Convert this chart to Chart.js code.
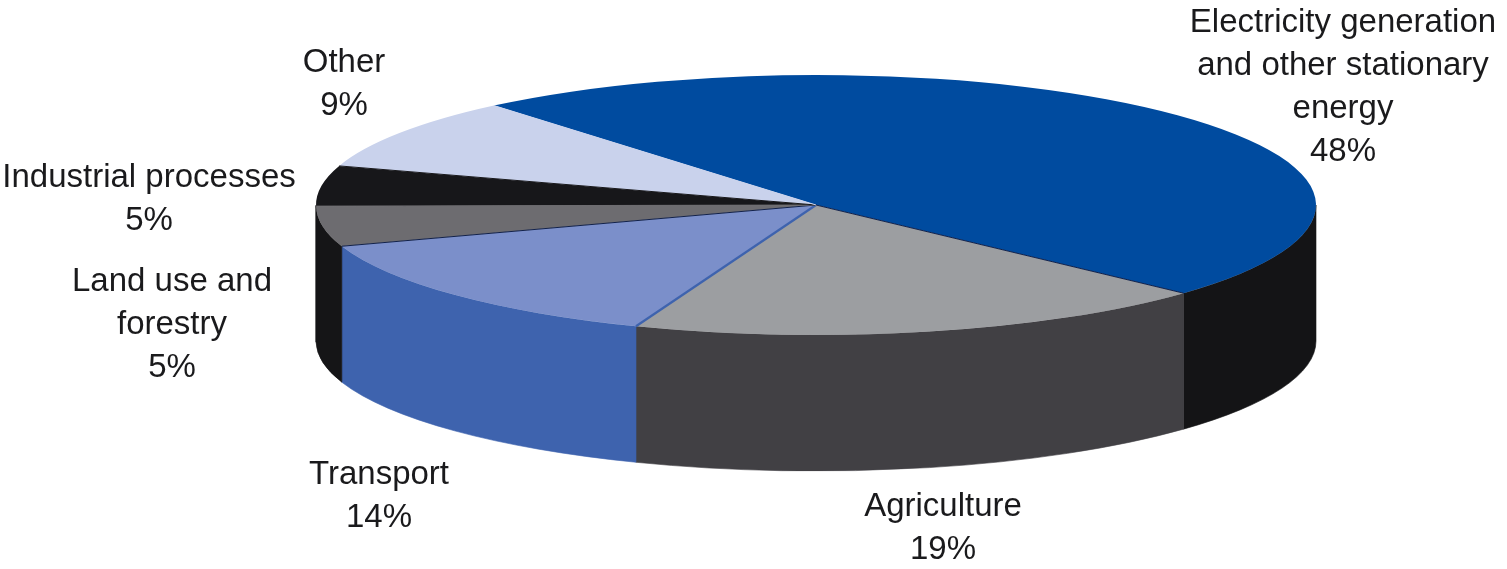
<!DOCTYPE html>
<html>
<head>
<meta charset="utf-8">
<style>html,body{margin:0;padding:0;background:#fff;overflow:hidden}canvas{display:block}</style>
<script src="https://cdn.jsdelivr.net/npm/chart.js@4"></script>
</head>
<body>
<canvas id="c" width="1507" height="569"></canvas>
<script>
const categories = ["Electricity generation and other stationary energy","Agriculture","Transport","Land use and forestry","Industrial processes","Other"];
const shares = [48,19,14,5,5,9];
const labelLines = [["Electricity generation","and other stationary","energy"],["Agriculture"],["Transport"],["Land use and","forestry"],["Industrial processes"],["Other"]];
const topColors = ["#004b9f","#9c9ea1","#7b8fca","#6d6c70","#17171a","#c9d2ec"];
const wallColors = ["#141416","#414044","#3e63ae","#151517","#151517","#151517"];
const seamColors = ["#10204a","#3e63ae","#10204a","#6d6c70","#17171a","#c9d2ec"];
const labelX = [1343,943,379,172,149,344];
const labelY = [23,507,475,282,178,63];

const ELL = {cx:816, cy:205, rx:500, ry:130, depth:136};
const FONT = '33px "Liberation Sans"';
const LINE = 43;

function toEllipse(ctx, arc){
  ctx.translate(ELL.cx, ELL.cy);
  ctx.scale(ELL.rx/arc.outerRadius, ELL.ry/arc.outerRadius);
  ctx.translate(-arc.x, -arc.y);
}

const pie3d = {
  id:'pie3d',
  beforeDatasetsDraw(chart){
    const ctx = chart.ctx, arcs = chart.getDatasetMeta(0).data;
    arcs.forEach((arc,i)=>{
      for(let k=-1;k<=1;k++){
        const a = Math.max(arc.startAngle+k*2*Math.PI, 0);
        const b = Math.min(arc.endAngle+k*2*Math.PI, Math.PI);
        if(a>=b) continue;
        ctx.save();
        ctx.fillStyle = wallColors[i];
        ctx.strokeStyle = wallColors[i];
        ctx.lineWidth = 0.6;
        ctx.beginPath();
        ctx.ellipse(ELL.cx,ELL.cy,ELL.rx,ELL.ry,0,a,b,false);
        ctx.ellipse(ELL.cx,ELL.cy+ELL.depth,ELL.rx,ELL.ry,0,b,a,true);
        ctx.closePath();
        ctx.fill();
        ctx.stroke();
        ctx.restore();
      }
    });
    ctx.save();
    toEllipse(ctx, arcs[0]);
  },
  afterDatasetsDraw(chart){
    const ctx = chart.ctx, arcs = chart.getDatasetMeta(0).data;
    ctx.restore();
    arcs.forEach((arc,i)=>{
      const x = ELL.cx+ELL.rx*Math.cos(arc.endAngle), y = ELL.cy+ELL.ry*Math.sin(arc.endAngle);
      ctx.save();
      ctx.strokeStyle = seamColors[i];
      ctx.lineWidth = i===1 ? 2.2 : 1;
      ctx.beginPath();
      ctx.moveTo(ELL.cx,ELL.cy);
      ctx.lineTo(x,y);
      ctx.stroke();
      ctx.restore();
    });
    ctx.save();
    ctx.font = FONT;
    ctx.fillStyle = '#1a1a1c';
    ctx.textAlign = 'center';
    ctx.textBaseline = 'middle';
    categories.forEach((c,i)=>{
      const lines = [...labelLines[i], shares[i]+'%'];
      lines.forEach((t,j)=>ctx.fillText(t, labelX[i], labelY[i]+j*LINE));
    });
    ctx.restore();
  }
};

new Chart(document.getElementById('c'),{
  type:'pie',
  data:{labels:categories,datasets:[{data:shares,backgroundColor:topColors,borderWidth:0,clip:false}]},
  options:{
    responsive:false,animation:false,rotation:319.9,
    layout:{padding:0},
    plugins:{legend:{display:false},tooltip:{enabled:false},title:{display:false}}
  },
  plugins:[pie3d]
});
</script>
</body>
</html>
